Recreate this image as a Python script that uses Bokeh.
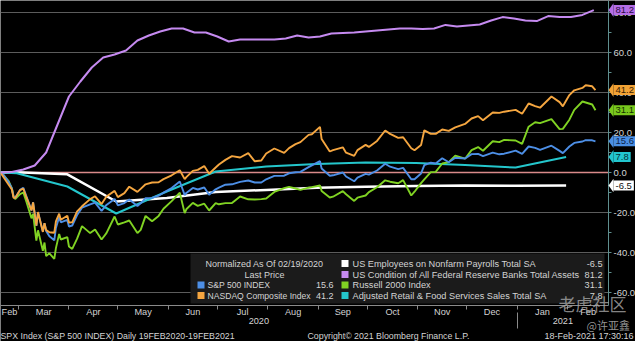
import pandas as pd
from bokeh.plotting import figure
from bokeh.models import (ColumnDataSource, Range1d, LinearAxis, FixedTicker,
                          DatetimeTickFormatter, NumeralTickFormatter, Label,
                          BoxAnnotation, PolyAnnotation)
from bokeh.embed import file_html
from bokeh.resources import INLINE

# ---------------- data (percent change, normalized as of 02/19/2020) ----------------
eq_dates = [
    "2020-02-19", "2020-02-21", "2020-02-24", "2020-02-26", "2020-02-27", "2020-02-28",
    "2020-03-02", "2020-03-04", "2020-03-06", "2020-03-09", "2020-03-10", "2020-03-12", "2020-03-13",
    "2020-03-16", "2020-03-17", "2020-03-18", "2020-03-20", "2020-03-23", "2020-03-24", "2020-03-26",
    "2020-03-27", "2020-03-31",
    "2020-04-01", "2020-04-03", "2020-04-06", "2020-04-09", "2020-04-14", "2020-04-17", "2020-04-21",
    "2020-04-24", "2020-04-29",
    "2020-05-01", "2020-05-05", "2020-05-08", "2020-05-13", "2020-05-15", "2020-05-18", "2020-05-22",
    "2020-05-26", "2020-05-29",
    "2020-06-03", "2020-06-08", "2020-06-11", "2020-06-12", "2020-06-16", "2020-06-19", "2020-06-23",
    "2020-06-26", "2020-06-30",
    "2020-07-02", "2020-07-06", "2020-07-10", "2020-07-15", "2020-07-20", "2020-07-24", "2020-07-28",
    "2020-07-31",
    "2020-08-05", "2020-08-11", "2020-08-14", "2020-08-18", "2020-08-21", "2020-08-26", "2020-08-28",
    "2020-09-02", "2020-09-03", "2020-09-08", "2020-09-10", "2020-09-16", "2020-09-18", "2020-09-23",
    "2020-09-25", "2020-09-30",
    "2020-10-02", "2020-10-07", "2020-10-12", "2020-10-15", "2020-10-20", "2020-10-23", "2020-10-28",
    "2020-10-30",
    "2020-11-03", "2020-11-05", "2020-11-09", "2020-11-12", "2020-11-16", "2020-11-20", "2020-11-24",
    "2020-11-30",
    "2020-12-04", "2020-12-08", "2020-12-11", "2020-12-17", "2020-12-21", "2020-12-24", "2020-12-31",
    "2021-01-04", "2021-01-08", "2021-01-12", "2021-01-15", "2021-01-22", "2021-01-27", "2021-01-29",
    "2021-02-02", "2021-02-05", "2021-02-10", "2021-02-12", "2021-02-16", "2021-02-18",
]
spx = [
    0, -1.4, -4.7, -8.0, -12.0, -12.8,
    -8.7, -7.6, -12.2, -18.9, -14.9, -26.7, -19.9, -29.5, -25.3, -29.2, -31.9, -33.9, -27.7, -22.3, -24.9, -23.7,
    -27.0, -26.5, -21.3, -17.6, -15.9, -15.1, -19.2, -16.2, -13.2,
    -16.4, -15.3, -13.5, -16.7, -15.4, -12.8, -12.7, -11.6, -10.1,
    -7.8, -4.5, -11.3, -10.2, -7.7, -8.5, -7.5, -11.1, -8.4,
    -7.6, -6.1, -5.9, -4.7, -4.0, -5.0, -5.0, -3.4,
    -1.7, -1.6, -0.4, 0.1, 0.3, 2.7, 3.6,
    5.7, 2.0, -1.6, -1.4, 0.0, -2.0, -4.4, -2.6, -0.7,
    -1.1, 1.0, 4.4, 2.9, 1.7, 2.3, -3.4, -3.4,
    -0.5, 3.7, 4.9, 4.5, 7.1, 5.1, 7.4, 7.0,
    9.2, 9.3, 8.2, 9.9, 9.1, 9.4, 10.9,
    9.3, 13.0, 12.3, 11.3, 13.4, 10.8, 9.7,
    13.0, 14.8, 15.5, 16.2, 16.1, 15.6,
]
nasdaq = [
    0, -2.5, -6.1, -8.5, -12.7, -12.7,
    -8.8, -8.1, -12.6, -19.0, -15.0, -26.6, -19.8, -29.7, -25.3, -28.8, -29.9, -30.1, -24.4, -20.6, -23.6, -21.6,
    -25.0, -24.9, -19.4, -16.9, -13.3, -11.9, -15.8, -12.0, -9.2,
    -12.3, -10.3, -7.1, -9.7, -8.2, -5.9, -5.0, -4.9, -3.3,
    -1.4, 1.1, -3.3, -2.3, 0.8, 1.3, 3.2, -0.6, 2.5,
    4.0, 6.3, 8.2, 7.5, 9.7, 5.6, 6.0, 9.5,
    12.0, 9.8, 12.2, 14.2, 15.2, 18.8, 19.1,
    22.8, 16.7, 10.5, 11.2, 12.6, 9.9, 8.3, 11.2, 13.8,
    12.8, 15.8, 21.0, 19.3, 17.3, 17.6, 12.1, 11.1,
    13.7, 21.1, 19.3, 19.3, 21.5, 20.8, 22.6, 24.3,
    27.0, 28.2, 26.1, 30.0, 29.8, 30.4, 31.3,
    29.4, 34.5, 33.2, 32.4, 38.0, 35.2, 33.1,
    38.7, 41.1, 42.3, 43.6, 43.1, 41.2,
]
russell = [
    0, -1.4, -4.3, -8.0, -12.0, -13.3,
    -10.8, -10.0, -14.9, -22.9, -20.7, -34.1, -28.9, -39.1, -35.0, -41.8, -40.4, -43.2, -37.8, -30.7, -33.5, -32.3,
    -37.0, -38.2, -33.1, -26.8, -30.3, -28.5, -33.5, -30.3, -22.0,
    -26.0, -24.9, -24.0, -30.3, -28.7, -21.7, -24.4, -21.7, -18.1,
    -14.3, -10.1, -20.3, -18.4, -15.2, -16.7, -15.6, -19.0, -15.3,
    -15.9, -15.3, -15.3, -12.0, -13.4, -13.5, -13.3, -13.0,
    -9.7, -7.8, -7.2, -8.0, -8.7, -7.6, -7.3,
    -6.5, -9.3, -12.5, -12.1, -9.3, -10.9, -14.2, -12.6, -11.5,
    -9.8, -7.4, -3.9, -4.6, -5.4, -3.8, -11.5, -9.6,
    -5.3, -3.4, 0.2, 0.3, 4.5, 5.2, 8.4, 6.9,
    11.2, 12.7, 10.9, 15.6, 15.2, 16.3, 16.0,
    14.3, 22.9, 25.1, 24.7, 26.7, 21.7, 21.8,
    26.4, 31.3, 35.5, 35.0, 34.0, 31.1,
]

fed_dates = [
    "2020-02-19", "2020-02-26", "2020-03-04", "2020-03-11", "2020-03-18", "2020-03-25",
    "2020-04-01", "2020-04-08", "2020-04-15", "2020-04-22", "2020-04-29",
    "2020-05-06", "2020-05-13", "2020-05-20", "2020-05-27",
    "2020-06-03", "2020-06-10", "2020-06-17", "2020-06-24",
    "2020-07-01", "2020-07-08", "2020-07-15", "2020-07-22", "2020-07-29",
    "2020-08-05", "2020-08-12", "2020-08-19", "2020-08-26",
    "2020-09-02", "2020-09-09", "2020-09-16", "2020-09-23", "2020-09-30",
    "2020-10-07", "2020-10-14", "2020-10-21", "2020-10-28",
    "2020-11-04", "2020-11-11", "2020-11-18", "2020-11-25",
    "2020-12-02", "2020-12-09", "2020-12-16", "2020-12-23", "2020-12-30",
    "2021-01-06", "2021-01-13", "2021-01-20", "2021-01-27",
    "2021-02-03", "2021-02-10", "2021-02-17",
]
fed_assets = [
    0, 0.3, 1.5, 3.5, 10.0, 24.0,
    38.0, 45.5, 52.5, 57.5, 59.0,
    61.0, 66.0, 68.5, 70.5,
    72.0, 72.0, 70.0, 70.0,
    68.0, 65.5, 66.5, 66.5, 66.5,
    66.5, 67.0, 68.5, 67.5,
    68.0, 69.5, 69.8, 70.0, 70.5,
    71.0, 71.5, 72.0, 72.0,
    71.8, 72.0, 73.8, 73.0,
    73.5, 74.0, 76.0, 77.7, 77.0,
    76.0, 75.7, 78.2, 77.7,
    77.8, 78.8, 81.2,
]

monthly_dates = [
    "2020-02-19", "2020-02-29", "2020-03-31", "2020-04-30", "2020-05-31", "2020-06-30",
    "2020-07-31", "2020-08-31", "2020-09-30", "2020-10-31", "2020-11-30", "2020-12-31", "2021-01-31",
]
payrolls = [0, 0.1, -0.9, -14.5, -12.8, -9.8, -8.7, -7.6, -7.1, -6.7, -6.5, -6.6, -6.5]
retail = [0, -0.4, -7.0, -20.5, -9.5, 0.5, 3.0, 4.3, 5.0, 4.8, 3.7, 2.5, 7.8]

names = {
    "spx": "S&P 500 INDEX",
    "nasdaq": "NASDAQ Composite Index",
    "payrolls": "US Employees on Nonfarm Payrolls Total SA",
    "fed": "US Condition of All Federal Reserve Banks Total Assets",
    "russell": "Russell 2000 Index",
    "retail": "Adjusted Retail & Food Services Sales Total SA",
}
colors = {
    "spx": "#4d8fe6", "nasdaq": "#f5a640", "payrolls": "#ffffff",
    "fed": "#c58af0", "russell": "#80d323", "retail": "#24c6cc",
}
y_ticks = [-60, -40, -20, 0, 20, 40, 60, 80]
y_minor = [-50, -30, -10, 10, 30, 50, 70]
y_top, y_bottom = 86, -66.5          # plotting band of the value axis

FONT = "Liberation Sans"
TXT = "#d4d4d4"
W, H = 635, 341
PLOT_W = 608                          # pixel width of the dated band


def ms(d):
    return pd.Timestamp(d).value / 1e6


x_start = pd.Timestamp("2020-02-19")
axis_end = pd.Timestamp("2021-02-26")
frame_end = x_start + (axis_end - x_start) * (W / PLOT_W)
y_px = (y_top - y_bottom) / 305.0     # value units per pixel
frame_bottom = y_top - H * y_px

p = figure(width=W, height=H, output_backend="svg", toolbar_location=None,
           x_range=Range1d(ms(x_start), ms(frame_end)), y_range=Range1d(frame_bottom, y_top),
           x_axis_location=None, y_axis_location=None,
           min_border_left=0, min_border_top=0, min_border_right=0, min_border_bottom=0)
p.xgrid.visible = False
p.ygrid.visible = False
p.background_fill_color = "black"
p.border_fill_color = "black"
p.outline_line_color = None

# horizontal grid lines and the zero line, stopping at the value axis
grid_vals = [t for t in y_ticks if t != 0]
p.segment(x0=[ms(x_start)] * len(grid_vals), x1=[ms(axis_end)] * len(grid_vals),
          y0=grid_vals, y1=grid_vals, line_color="#5c5c5c", line_width=1)
p.segment(x0=[ms(x_start)], x1=[ms(axis_end)], y0=[0], y1=[0], line_color="#d98a8a", line_width=1.5)

# series
series = [
    ("payrolls", monthly_dates, payrolls, 2.5),
    ("retail", monthly_dates, retail, 2),
    ("russell", eq_dates, russell, 1.9),
    ("spx", eq_dates, spx, 1.9),
    ("nasdaq", eq_dates, nasdaq, 1.9),
    ("fed", fed_dates, fed_assets, 2),
]
for key, dates, vals, lw in series:
    src = ColumnDataSource(dict(x=[ms(d) for d in dates], y=vals))
    p.line("x", "y", source=src, line_color=colors[key], line_width=lw)

# right value axis, pinned at the end of the dated band
ry = LinearAxis(ticker=FixedTicker(ticks=y_ticks, minor_ticks=y_minor),
                formatter=NumeralTickFormatter(format="0.0"),
                fixed_location=ms(axis_end), bounds=(y_bottom, y_top))
ry.axis_line_color = "#5f8f8f"
ry.major_tick_line_color = "#5f8f8f"
ry.minor_tick_line_color = "#5f8f8f"
ry.major_tick_in = 0
ry.major_tick_out = 3
ry.minor_tick_in = 0
ry.minor_tick_out = 3
ry.major_label_standoff = 2
ry.major_label_text_color = TXT
ry.major_label_text_font = FONT
ry.major_label_text_font_size = "9.5px"
p.add_layout(ry, "right")

# bottom axes: month names centred in each month, ticks on month boundaries
month_starts = list(pd.date_range("2020-03-01", "2021-02-01", freq="MS"))
bounds = [x_start] + month_starts + [axis_end]
mids = [a + (b - a) / 2 for a, b in zip(bounds[:-1], bounds[1:])]
fmt_m = DatetimeTickFormatter(microseconds="%b", milliseconds="%b", seconds="%b", minsec="%b",
                              minutes="%b", hourmin="%b", hours="%b", days="%b", months="%b", years="%b")
xa = LinearAxis(ticker=FixedTicker(ticks=[ms(m) for m in mids], minor_ticks=[ms(m) for m in month_starts]),
                formatter=fmt_m, fixed_location=y_bottom, bounds=(ms(x_start), ms(axis_end)))
xa.axis_line_color = "#8a8a8a"
xa.major_tick_line_color = None
xa.minor_tick_line_color = "#8a8a8a"
xa.minor_tick_in = 0
xa.minor_tick_out = 4
xa.major_tick_out = 0
xa.major_tick_in = 0
xa.major_label_standoff = -3
xa.major_label_text_color = TXT
xa.major_label_text_font = FONT
xa.major_label_text_font_size = "9.2px"
p.add_layout(xa, "below")

year_start = pd.Timestamp("2021-01-01")
year_mids = [x_start + (year_start - x_start) / 2, year_start + (axis_end - year_start) / 2]
fmt_y = DatetimeTickFormatter(microseconds="%Y", milliseconds="%Y", seconds="%Y", minsec="%Y",
                              minutes="%Y", hourmin="%Y", hours="%Y", days="%Y", months="%Y", years="%Y")
xy = LinearAxis(ticker=FixedTicker(ticks=[ms(m) for m in year_mids], minor_ticks=[ms(year_start)]),
                formatter=fmt_y, fixed_location=y_bottom - 7 * y_px,
                bounds=(ms(x_start), ms(axis_end)))
xy.axis_line_color = None
xy.major_tick_line_color = None
xy.major_tick_out = 0
xy.major_tick_in = 0
xy.minor_tick_line_color = "#8a8a8a"
xy.minor_tick_in = 0
xy.minor_tick_out = 16
xy.major_label_standoff = -11
xy.major_label_text_color = TXT
xy.major_label_text_font = FONT
xy.major_label_text_font_size = "9.2px"
p.add_layout(xy, "below")

# legend box
p.add_layout(BoxAnnotation(left=190, right=604, left_units="screen", right_units="screen",
                           top=-40.5, bottom=-65.5, fill_color="#1b1b1b", fill_alpha=1,
                           line_color=None))
rows = [-45.5, -51.0, -56.25, -61.5]


def txt(x, y, text, align="left", size="9.2px", color=TXT, font=FONT, alpha=1.0):
    p.add_layout(Label(x=x, y=y, x_units="screen", y_units="data", text=text, text_align=align,
                       text_baseline="middle", text_font=font, text_font_size=size,
                       text_color=color, text_alpha=alpha))


def square(x, y, color):
    p.add_layout(BoxAnnotation(left=x, right=x + 7, left_units="screen", right_units="screen",
                               top=y + 1.75, bottom=y - 1.75, fill_color=color, fill_alpha=1,
                               line_color=None))


last = {"spx": spx[-1], "nasdaq": nasdaq[-1], "payrolls": payrolls[-1], "fed": fed_assets[-1],
        "russell": russell[-1], "retail": retail[-1]}

txt(264, rows[0], "Normalized As Of 02/19/2020", align="center", size="9px")
txt(264, rows[1], "Last Price", align="center", size="9px")
for r, key in zip(rows[2:], ["spx", "nasdaq"]):
    square(197, r, colors[key])
    txt(207, r, names[key], size="8.6px")
    txt(333, r, f"{last[key]:.1f}", align="right", size="9px")
for r, key in zip(rows, ["payrolls", "fed", "russell", "retail"]):
    square(341, r, colors[key])
    txt(352, r, names[key], size="9.2px")
    txt(602, r, f"{last[key]:.1f}", align="right", size="9.2px")

# value tags on the right axis
tag_style = {
    "fed": ("#b56ee6", "#2a0a44"), "nasdaq": ("#f2a235", "#3a2000"), "russell": ("#79c81d", "#143000"),
    "spx": ("#4a8fe4", "#0a2248"), "retail": ("#22c6cf", "#053338"), "payrolls": ("#ffffff", "#111111"),
}
for key, (bg, fg) in tag_style.items():
    v = last[key]
    p.add_layout(PolyAnnotation(xs=[608, 613, 613], ys=[v, v + 3.4, v - 3.4], xs_units="screen",
                                ys_units="data", fill_color=bg, fill_alpha=1, line_color=None))
    p.add_layout(Label(x=613, y=v, x_units="screen", y_units="data", text=f"{v:.1f}",
                       text_align="left", text_baseline="middle", text_font=FONT,
                       text_font_size="9.5px", text_color=fg, background_fill_color=bg,
                       background_fill_alpha=1, padding=2))

# footer
txt(0, -81.7, "SPX Index (S&P 500 INDEX)  Daily 19FEB2020-19FEB2021", size="8.8px")
txt(307, -81.7, "Copyright\u00a9 2021 Bloomberg Finance L.P.", size="8.8px")
txt(633, -81.7, "18-Feb-2021 17:30:16", align="right", size="9px")

# watermark
txt(558, -65.5, "老虎社区", size="17px", color="#a8a8a8", font="Noto Sans CJK SC", alpha=0.8)
txt(586, -76.2, "@许亚鑫", size="11px", color="#b0b0b0", font="Noto Sans CJK SC", alpha=0.85)

open("out.html", "w").write(file_html(p, INLINE))
